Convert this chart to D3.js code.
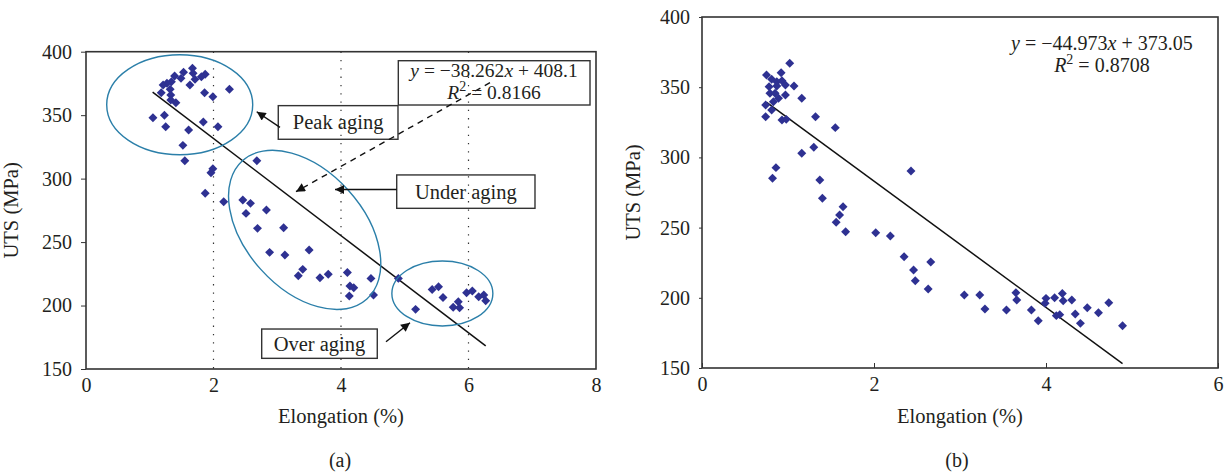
<!DOCTYPE html>
<html>
<head>
<meta charset="utf-8">
<script src="https://cdn.jsdelivr.net/npm/d3@7"></script>
<style>
body { margin: 0; background: #fff; }
svg text { font-family: "Liberation Serif", "DejaVu Serif", serif; fill: #231f20; }
.axis path { display: none; }
.axis line { stroke: #333; }
.axis text { font-size: 20px; }
</style>
</head>
<body>
<svg width="1230" height="474"></svg>
<script>
// (a) elongation (%) vs UTS (MPa)
const elongA = [1.67, 1.53, 1.68, 1.87, 1.81, 1.39, 1.49, 1.71, 1.34, 1.27, 1.21, 1.63, 1.32, 2.25, 1.18, 1.86,
    1.33, 1.99, 1.41, 1.33, 1.05, 1.23, 1.25, 1.84, 2.07, 1.61, 1.52, 1.55, 2.68, 1.99, 1.96, 1.87, 2.16, 2.46,
    2.58, 2.51, 2.83, 2.69, 3.10, 2.88, 3.12, 3.50, 3.40, 3.33, 3.67, 3.80, 4.10, 4.14, 4.20, 4.13, 4.47, 4.51,
    4.90, 5.17, 5.43, 5.53, 5.60, 5.76, 5.84, 5.86, 5.97, 6.06, 6.16, 6.24, 6.27]
const utsA = [386.9, 383.8, 383.0, 382.2, 380.3, 380.9, 379.0, 378.2, 376.4, 375.1, 373.8, 373.8, 370.4, 370.4,
    367.7, 367.7, 365.9, 364.5, 359.8, 361.9, 348.0, 349.9, 340.9, 344.6, 340.9, 338.3, 326.2, 314.1, 314.1,
    307.8, 304.6, 288.4, 281.8, 283.1, 280.5, 272.6, 275.2, 260.8, 261.3, 241.9, 239.8, 243.7, 228.5, 223.5,
    221.9, 224.6, 226.1, 215.4, 214.0, 207.5, 221.4, 208.3, 221.4, 197.0, 212.7, 214.8, 206.4, 198.6, 203.0,
    198.3, 210.1, 211.4, 207.0, 208.3, 203.8]

// (b)
const elongB = [1.02, 0.75, 0.92, 0.81, 0.87, 0.93, 0.87, 0.97, 1.07, 0.78, 0.79, 0.85, 0.97, 0.89, 0.83, 0.74,
    0.81, 1.16, 0.74, 0.93, 0.98, 1.32, 1.55, 1.30, 1.16, 2.43, 0.86, 0.82, 1.37, 1.40, 1.64, 1.60, 1.56, 1.67,
    2.02, 2.19, 2.35, 2.66, 2.46, 2.48, 2.63, 3.05, 3.23, 3.29, 3.54, 3.65, 3.66, 3.83, 3.91, 3.99, 4.00, 4.10,
    4.12, 4.16, 4.19, 4.20, 4.30, 4.34, 4.40, 4.48, 4.61, 4.73, 4.89]
const utsB = [367.0, 358.7, 360.3, 355.6, 353.9, 354.6, 350.9, 351.6, 350.9, 350.4, 345.7, 345.7, 344.4, 342.1,
    339.7, 337.3, 333.8, 342.1, 329.0, 326.6, 327.1, 329.0, 321.2, 307.2, 302.9, 290.3, 292.7, 285.1, 283.9,
    270.9, 264.9, 259.0, 253.8, 247.1, 246.4, 244.0, 229.3, 225.5, 219.8, 212.2, 206.3, 202.0, 202.0, 192.0,
    191.3, 203.6, 198.4, 191.3, 183.7, 196.1, 199.6, 200.1, 187.3, 188.0, 203.0, 197.9, 198.4, 188.5, 181.8,
    192.9, 189.4, 196.5, 180.1]

const xTicksA = [0, 2, 4, 6, 8]
const xTicksB = [0, 2, 4, 6]
const yTicks = [150, 200, 250, 300, 350, 400]
const gridA = [2, 4, 6]

// linear fits as printed on the chart
const fitA = {slope: -38.262, intercept: 408.1, from: 1.045, to: 6.27, r2: "0.8166"}
const fitB = {slope: -44.973, intercept: 373.05, from: 0.752, to: 4.89, r2: "0.8708"}

const xTitle = "Elongation (%)"
const yTitle = "UTS (MPa)"

const pointColor = "#2e3192"
const ellipseColor = "#2b7fa9"

let svg = d3.select('svg')

svg.append('defs').append('marker')
    .attr('id', 'arrow')
    .attr('viewBox', '0 0 10 10')
    .attr('refX', 10)
    .attr('refY', 5)
    .attr('markerUnits', 'userSpaceOnUse')
    .attr('markerWidth', 11)
    .attr('markerHeight', 9)
    .attr('orient', 'auto')
    .append('path')
    .attr('d', 'M0,0L10,5L0,10z')
    .attr('fill', '#111')

// draw one scatter panel, returns its scales
function drawPanel(p) {
    const x = d3.scaleLinear().domain(p.xDomain).range([p.left, p.right])
    const y = d3.scaleLinear().domain([150, 400]).range([p.bottom, p.top])
    const g = svg.append('g')

    // dotted grid
    g.selectAll('.grid')
        .data(p.grid)
        .enter()
        .append('line')
        .attr('x1', d => x(d)).attr('x2', d => x(d))
        .attr('y1', p.top).attr('y2', p.bottom)
        .attr('stroke', '#333')
        .attr('stroke-width', 1.2)
        .attr('stroke-dasharray', '1.3,7')

    // frame
    g.append('rect')
        .attr('x', p.left).attr('y', p.top)
        .attr('width', p.right - p.left).attr('height', p.bottom - p.top)
        .attr('fill', 'none')
        .attr('stroke', '#333')
        .attr('stroke-width', 1.6)

    g.append('g')
        .attr('class', 'axis')
        .attr('transform', `translate(${p.left},0)`)
        .call(d3.axisLeft(y).tickValues(yTicks).tickSize(p.yTick).tickPadding(p.yPad))

    g.append('g')
        .attr('class', 'axis')
        .attr('transform', `translate(0,${p.bottom})`)
        .call(d3.axisBottom(x).tickValues(p.xTicks).tickFormat(d3.format('d'))
            .tickSizeInner(p.xTick).tickSizeOuter(0).tickPadding(p.xPad))

    // fit line
    g.append('line')
        .attr('x1', x(p.fit.from)).attr('y1', y(p.fit.intercept + p.fit.slope * p.fit.from))
        .attr('x2', x(p.fit.to)).attr('y2', y(p.fit.intercept + p.fit.slope * p.fit.to))
        .attr('stroke', '#111')
        .attr('stroke-width', 1.5)

    // points
    const diamond = d3.symbol(d3.symbolSquare, 40)
    g.selectAll('.pt')
        .data(p.xs.map((d, i) => [d, p.ys[i]]))
        .enter()
        .append('path')
        .attr('d', diamond)
        .attr('transform', d => `translate(${x(d[0])},${y(d[1])}) rotate(45)`)
        .attr('fill', pointColor)

    // titles
    g.append('text')
        .attr('x', (p.left + p.right) / 2).attr('y', 423)
        .attr('text-anchor', 'middle')
        .style('font-size', '20.5px')
        .text(xTitle)
    g.append('text')
        .attr('transform', `translate(${p.left - p.yTitleOff},${(p.top + p.bottom) / 2}) rotate(-90)`)
        .attr('text-anchor', 'middle')
        .style('font-size', '20.5px')
        .text(yTitle)
    g.append('text')
        .attr('x', (p.left + p.right) / 2 + p.capShift).attr('y', 467)
        .attr('text-anchor', 'middle')
        .style('font-size', '20px')
        .text(p.caption)

    return {x, y, g}
}

// equation text with italic variables
function equation(g, cx, cy, fit, size) {
    const t1 = g.append('text')
        .attr('x', cx).attr('y', cy)
        .attr('text-anchor', 'middle')
        .style('font-size', size + 'px')
    t1.append('tspan').style('font-style', 'italic').text('y')
    t1.append('tspan').text(` = \u2212${Math.abs(fit.slope)}`)
    t1.append('tspan').style('font-style', 'italic').text('x')
    t1.append('tspan').text(` + ${fit.intercept}`)
    const t2 = g.append('text')
        .attr('x', cx).attr('y', cy + 22.5)
        .attr('text-anchor', 'middle')
        .style('font-size', size + 'px')
    t2.append('tspan').style('font-style', 'italic').text('R')
    t2.append('tspan').attr('dy', -8).style('font-size', '14px').text('2')
    t2.append('tspan').attr('dy', 8).text(` = ${fit.r2}`)
}

const A = drawPanel({
    left: 86, right: 596, top: 51.7, bottom: 369,
    xDomain: [0, 8], xTicks: xTicksA, grid: gridA,
    xTick: 0, xPad: 9, yTick: 5, yPad: 9, yTitleOff: 68,
    fit: fitA, xs: elongA, ys: utsA, caption: "(a)", capShift: -1
})
const B = drawPanel({
    left: 702, right: 1218, top: 17, bottom: 368,
    xDomain: [0, 6], xTicks: xTicksB, grid: [],
    xTick: -5, xPad: 9, yTick: 3, yPad: 9, yTitleOff: 62,
    fit: fitB, xs: elongB, ys: utsB, caption: "(b)", capShift: -3
})

// (a) annotations, placed in data units
const ellipsesA = [
    {cx: 1.47, cy: 358.2, rx: 73, ry: 50, rot: 0},
    {cx: 3.43, cy: 259.6, rx: 93, ry: 59, rot: 48},
    {cx: 5.59, cy: 209.5, rx: 50.5, ry: 32.5, rot: 0}
]
A.g.selectAll('.ell')
    .data(ellipsesA)
    .enter()
    .append('ellipse')
    .attr('transform', d => `translate(${A.x(d.cx)},${A.y(d.cy)}) rotate(${d.rot})`)
    .attr('rx', d => d.rx).attr('ry', d => d.ry)
    .attr('fill', 'none')
    .attr('stroke', ellipseColor)
    .attr('stroke-width', 1.4)

const boxesA = [
    {x0: 3.016, x1: 4.894, y0: 357.5, y1: 331.0, label: "Peak aging"},
    {x0: 4.874, x1: 7.043, y0: 302.9, y1: 276.6, label: "Under aging"},
    {x0: 2.756, x1: 4.569, y0: 181.5, y1: 158.4, label: "Over aging"},
    {x0: 4.899, x1: 7.906, y0: 392.9, y1: 358.0, label: null}
]
boxesA.forEach(b => {
    A.g.append('rect')
        .attr('x', A.x(b.x0)).attr('y', A.y(b.y0))
        .attr('width', A.x(b.x1) - A.x(b.x0)).attr('height', A.y(b.y1) - A.y(b.y0))
        .attr('fill', 'none')
        .attr('stroke', '#333')
        .attr('stroke-width', 1.4)
    if (b.label) {
        A.g.append('text')
            .attr('x', (A.x(b.x0) + A.x(b.x1)) / 2)
            .attr('y', (A.y(b.y0) + A.y(b.y1)) / 2 + 7)
            .attr('text-anchor', 'middle')
            .style('font-size', '20.5px')
            .text(b.label)
    }
})

const arrowsA = [
    {x0: 3.043, y0: 340.4, x1: 2.678, y1: 352.7, dash: null},
    {x0: 4.874, y0: 291.4, x1: 3.906, y1: 291.4, dash: null},
    {x0: 4.706, y0: 171.5, x1: 5.082, y1: 186.5, dash: null},
    {x0: 6.337, y0: 375.6, x1: 3.294, y1: 289.7, dash: '6,5'}
]
A.g.selectAll('.arr')
    .data(arrowsA)
    .enter()
    .append('line')
    .attr('x1', d => A.x(d.x0)).attr('y1', d => A.y(d.y0))
    .attr('x2', d => A.x(d.x1)).attr('y2', d => A.y(d.y1))
    .attr('stroke', '#111')
    .attr('stroke-width', 1.4)
    .attr('stroke-dasharray', d => d.dash)
    .attr('marker-end', 'url(#arrow)')

equation(A.g, A.x(6.40), A.y(380.1), fitA, 19.5)
equation(B.g, B.x(4.65), B.y(376.5), fitB, 20)
</script>
</body>
</html>
